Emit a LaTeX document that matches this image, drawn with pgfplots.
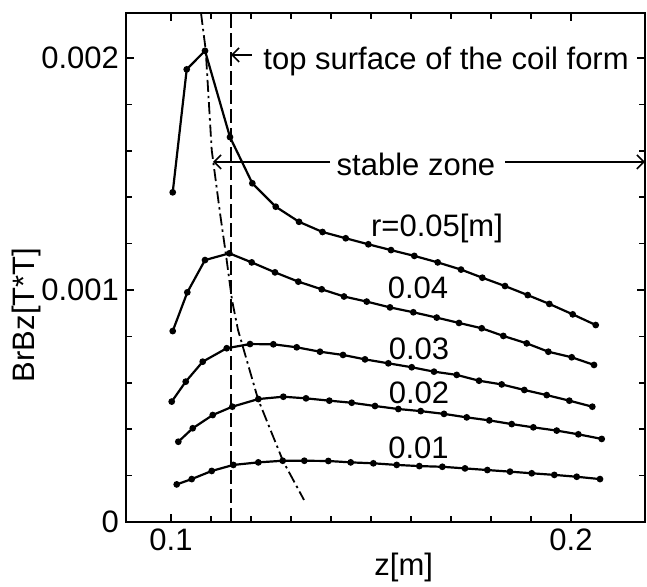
\documentclass[border=0pt]{standalone}
\usepackage{fontspec}
\setmainfont{Liberation Sans}
\usepackage{pgfplots}
\pgfplotsset{compat=1.18}
\usetikzlibrary{arrows.meta}

\begin{document}
\begin{tikzpicture}
\begin{axis}[
    scale only axis,
    width=259.5bp, height=254.5bp,
    xmin=0.08875, xmax=0.2185,
    ymin=0, ymax=0.002194,
    xtick={0.1,0.2}, xticklabels={0.1,0.2},
    ytick={0,0.001,0.002}, yticklabels={0,0.001,0.002},
    scaled x ticks=false, scaled y ticks=false,
    minor x tick num=9, minor y tick num=4,
    tick align=inside,
    major tick length=4bp, minor tick length=3bp,
    tick style={black, line width=0.8bp},
    axis line style={line width=1.1bp},
    font=\fontsize{15.5bp}{18bp}\selectfont,
    /pgf/number format/assume math mode=true,
    xlabel={z[m]}, ylabel={BrBz[T*T]},
    xlabel style={at={(axis description cs:0.535,-0.09)}, anchor=center},
    ylabel style={at={(axis description cs:-0.191,0.407)}, anchor=center},
    every axis plot/.append style={line width=1.1bp, black},
    mark options={solid, fill=black},
]
% r = 0.05
\addplot[mark=*, mark size=1.1bp] coordinates {
(0.10043,0.001421) (0.10393,0.001951) (0.1085,0.002031) (0.11475,0.001659)
(0.12033,0.001460) (0.12618,0.001359) (0.132,0.001294) (0.13788,0.001250)
(0.14368,0.001223) (0.14933,0.001197) (0.155,0.001172) (0.16083,0.001147)
(0.16668,0.001119) (0.1725,0.001088) (0.17783,0.001053) (0.1835,0.001017)
(0.18918,0.000978) (0.19458,0.000940) (0.20043,0.000895) (0.20618,0.000849)};
% r = 0.04
\addplot[mark=*, mark size=1.1bp] coordinates {
(0.10043,0.000823) (0.10408,0.000990) (0.1085,0.001129) (0.11458,0.001158)
(0.12018,0.001119) (0.126,0.001076) (0.13183,0.001036) (0.13768,0.001003)
(0.14325,0.000972) (0.14893,0.000950) (0.15475,0.000925) (0.16058,0.000904)
(0.16643,0.000881) (0.172,0.000858) (0.17768,0.000835) (0.18308,0.000802)
(0.18893,0.000770) (0.19433,0.000734) (0.20018,0.000710) (0.20575,0.000677)};
% r = 0.03
\addplot[mark=*, mark size=1.1bp] coordinates {
(0.10018,0.000519) (0.10368,0.000605) (0.10793,0.000691) (0.11393,0.000749)
(0.11975,0.000767) (0.12558,0.000766) (0.13143,0.000753) (0.13725,0.000734)
(0.143,0.000720) (0.1485,0.000701) (0.15433,0.000684) (0.16018,0.000667)
(0.16575,0.000648) (0.17143,0.000634) (0.177,0.000609) (0.18268,0.000593)
(0.18833,0.000569) (0.19393,0.000547) (0.19958,0.000523) (0.20533,0.000497)};
% r = 0.02
\addplot[mark=*, mark size=1.1bp] coordinates {
(0.10183,0.000346) (0.10543,0.000404) (0.11043,0.000461) (0.11533,0.000497)
(0.12183,0.000530) (0.12808,0.000540) (0.13375,0.000533) (0.13958,0.000523)
(0.14518,0.000514) (0.151,0.000500) (0.15683,0.000487) (0.16243,0.000478)
(0.16825,0.000466) (0.17393,0.000451) (0.17958,0.000438) (0.18518,0.000422)
(0.19058,0.000408) (0.19643,0.000394) (0.20183,0.000378) (0.20768,0.000358)};
% r = 0.01
\addplot[mark=*, mark size=1.1bp] coordinates {
(0.10143,0.000162) (0.10518,0.000185) (0.11018,0.000220) (0.11558,0.000246)
(0.12183,0.000257) (0.12793,0.000264) (0.13333,0.000264) (0.13933,0.000263)
(0.14493,0.000257) (0.15058,0.000253) (0.15643,0.000246) (0.16208,0.000241)
(0.16783,0.000238) (0.1735,0.000231) (0.17908,0.000224) (0.18475,0.000217)
(0.19018,0.000210) (0.19583,0.000203) (0.20143,0.000195) (0.20725,0.000185)};
% top surface of the coil form
\addplot[no marks, dash pattern=on 7bp off 2.5bp] coordinates {(0.115,0) (0.115,0.002194)};
% locus of the maxima
\addplot[no marks, line width=0.9bp, dash pattern=on 6bp off 2bp on 1.2bp off 2bp] coordinates {
(0.1075,0.002194) (0.10868,0.002034) (0.11018,0.001603) (0.11225,0.001332)
(0.11375,0.001151) (0.11525,0.000957) (0.11675,0.000828) (0.12175,0.000530)
(0.128,0.000263) (0.13325,0.000095)};

\draw[line width=0.8bp, -{Straight Barb[length=3.5bp,width=7bp]}] (0.12018,0.002013) -- (0.11500,0.002013);
\node[anchor=west, inner sep=0pt] at (0.1230,0.001987) {top surface of the coil form};
\draw[line width=0.8bp, -{Straight Barb[length=3.5bp,width=7bp]}] (0.13975,0.001552) -- (0.1105,0.001552);
\draw[line width=0.8bp, -{Straight Barb[length=3.5bp,width=7bp]}] (0.1835,0.001552) -- (0.2185,0.001552);
\node[inner sep=0pt] at (0.16125,0.001541) {stable zone};
\node[inner sep=0pt] at (0.1665,0.001267) {r=0.05[m]};
\node[inner sep=0pt] at (0.16175,0.001011) {0.04};
\node[inner sep=0pt] at (0.162,0.000748) {0.03};
\node[inner sep=0pt] at (0.162,0.000556) {0.02};
\node[inner sep=0pt] at (0.16188,0.000321) {0.01};
\end{axis}
\pgfresetboundingbox
\path[use as bounding box] ([shift={(-63bp,-32.5bp)}]current axis.south west) rectangle ([shift={(1bp,6.5bp)}]current axis.north east);
\end{tikzpicture}
\end{document}
